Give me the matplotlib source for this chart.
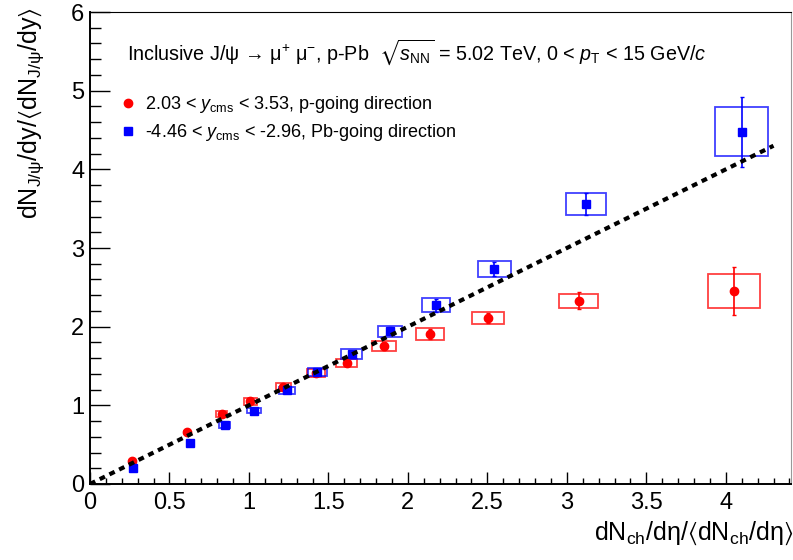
import matplotlib
matplotlib.use("Agg")
import matplotlib.pyplot as plt
from matplotlib.ticker import MultipleLocator

plt.rcParams['font.family'] = ['Liberation Sans', 'DejaVu Sans']
plt.rcParams['mathtext.fontset'] = 'custom'
plt.rcParams['mathtext.rm'] = 'Liberation Sans'
plt.rcParams['mathtext.it'] = 'Liberation Sans:italic'
plt.rcParams['mathtext.fallback'] = 'stixsans'

# p-going direction (red circles)
fwd_x = [0.264, 0.612, 0.828, 1.008, 1.217, 1.421, 1.616, 1.851, 2.140, 2.503, 3.075, 4.050]
fwd_y = [0.29, 0.66, 0.89, 1.05, 1.23, 1.41, 1.54, 1.75, 1.91, 2.11, 2.33, 2.45]
fwd_stat = [0.01, 0.02, 0.02, 0.02, 0.03, 0.03, 0.04, 0.05, 0.064, 0.068, 0.108, 0.303]
fwd_sysx = [0.01, 0.02, 0.035, 0.040, 0.047, 0.058, 0.066, 0.075, 0.088, 0.100, 0.123, 0.164]
fwd_sysy = [0.01, 0.02, 0.032, 0.040, 0.048, 0.050, 0.055, 0.064, 0.076, 0.080, 0.091, 0.214]

# Pb-going direction (blue squares)
bwd_x = [0.272, 0.631, 0.847, 1.031, 1.239, 1.430, 1.646, 1.889, 2.174, 2.543, 3.121, 4.099]
bwd_y = [0.20, 0.52, 0.75, 0.93, 1.19, 1.42, 1.65, 1.94, 2.27, 2.73, 3.56, 4.48]
bwd_stat = [0.01, 0.02, 0.02, 0.02, 0.03, 0.03, 0.04, 0.05, 0.085, 0.089, 0.135, 0.445]
bwd_sysx = [0.01, 0.02, 0.035, 0.042, 0.050, 0.060, 0.068, 0.075, 0.088, 0.104, 0.126, 0.166]
bwd_sysy = [0.01, 0.02, 0.034, 0.032, 0.049, 0.049, 0.066, 0.070, 0.089, 0.100, 0.142, 0.310]

# linear reference line
line_x = [0.0, 4.30]
line_y = [0.0, 4.30]

legend_labels = [r"2.03 < $y_{\mathrm{cms}}$ < 3.53, p-going direction",
                 r"-4.46 < $y_{\mathrm{cms}}$ < -2.96, Pb-going direction"]

fig = plt.figure(figsize=(7.93, 5.60), dpi=100)
ax = fig.add_axes([90 / 793, 1 - 484 / 560, 701 / 793, 472 / 560])

# systematic boxes
ax.bar(fwd_x, [2 * s for s in fwd_sysy], width=[2 * s for s in fwd_sysx],
       bottom=[y - s for y, s in zip(fwd_y, fwd_sysy)], fill=False,
       edgecolor='#ff0000', linewidth=1.3, alpha=0.75, zorder=2)
ax.bar(bwd_x, [2 * s for s in bwd_sysy], width=[2 * s for s in bwd_sysx],
       bottom=[y - s for y, s in zip(bwd_y, bwd_sysy)], fill=False,
       edgecolor='#0000ff', linewidth=1.3, alpha=0.75, zorder=2)

# points with statistical errors
h_fwd = ax.errorbar(fwd_x, fwd_y, yerr=fwd_stat, fmt='o', color='#ff0000',
                    markersize=6, elinewidth=1.2, capsize=1.5, capthick=1,
                    zorder=3)
h_bwd = ax.errorbar(bwd_x, bwd_y, yerr=bwd_stat, fmt='s', color='#0000ff',
                    markersize=5.5, elinewidth=1.2, capsize=1.5, capthick=1,
                    zorder=3)

ax.plot(line_x, line_y, color='black', linewidth=3, linestyle=(0, (1.4, 1.2)),
        zorder=4)

ax.set_xlim(0, 4.41)
ax.set_ylim(0, 6)
ax.xaxis.set_major_locator(MultipleLocator(0.5))
ax.xaxis.set_minor_locator(MultipleLocator(0.1))
ax.yaxis.set_major_locator(MultipleLocator(1))
ax.yaxis.set_minor_locator(MultipleLocator(0.2))
ax.xaxis.set_major_formatter(plt.FuncFormatter(lambda v, p: f"{v:g}"))
ax.tick_params(axis='both', which='both', direction='in', labelsize=17,
               top=False, right=False, width=1)
ax.tick_params(axis='x', which='major', length=8.6, pad=6)
ax.tick_params(axis='x', which='minor', length=4.3)
ax.tick_params(axis='y', which='major', length=14.4, pad=4)
ax.tick_params(axis='y', which='minor', length=7.7)
for side in ['left', 'bottom']:
    ax.spines[side].set_linewidth(1.4)
ax.spines['top'].set_linewidth(0.8)
ax.spines['right'].set_linewidth(0.8)
ax.spines['right'].set_color('#999999')

fig.text(793 / 793, 1 - 533 / 560,
         r"dN$_{\mathrm{ch}}$/dη/$\langle$dN$_{\mathrm{ch}}$/dη$\rangle$",
         ha='right', va='center', fontsize=18)
fig.text(31 / 793, 1 - 7 / 560,
         r"dN$_{\mathrm{J/ψ}}$/dy/$\langle$dN$_{\mathrm{J/ψ}}$/dy$\rangle$",
         ha='center', va='top', rotation=90, fontsize=18)

fig.text(127 / 793, 1 - 52 / 560,
         r"Inclusive J/ψ → μ$^{+}$ μ$^{-}$, p-Pb  $\sqrt{s_{\mathrm{NN}}}$ = 5.02 TeV, "
         r"0 < $p_{\mathrm{T}}$ < 15 GeV/$c$",
         ha='left', va='center', fontsize=14.2)

ax.legend([h_fwd[0], h_bwd[0]], legend_labels, loc='upper left',
          bbox_to_anchor=(120 / 793, 1 - 94 / 560),
          bbox_transform=fig.transFigure, frameon=False, fontsize=13,
          handlelength=0.9, handletextpad=0.5, labelspacing=0.4,
          borderpad=0, borderaxespad=0)

plt.savefig('out.png', dpi=100)
plt.close()
